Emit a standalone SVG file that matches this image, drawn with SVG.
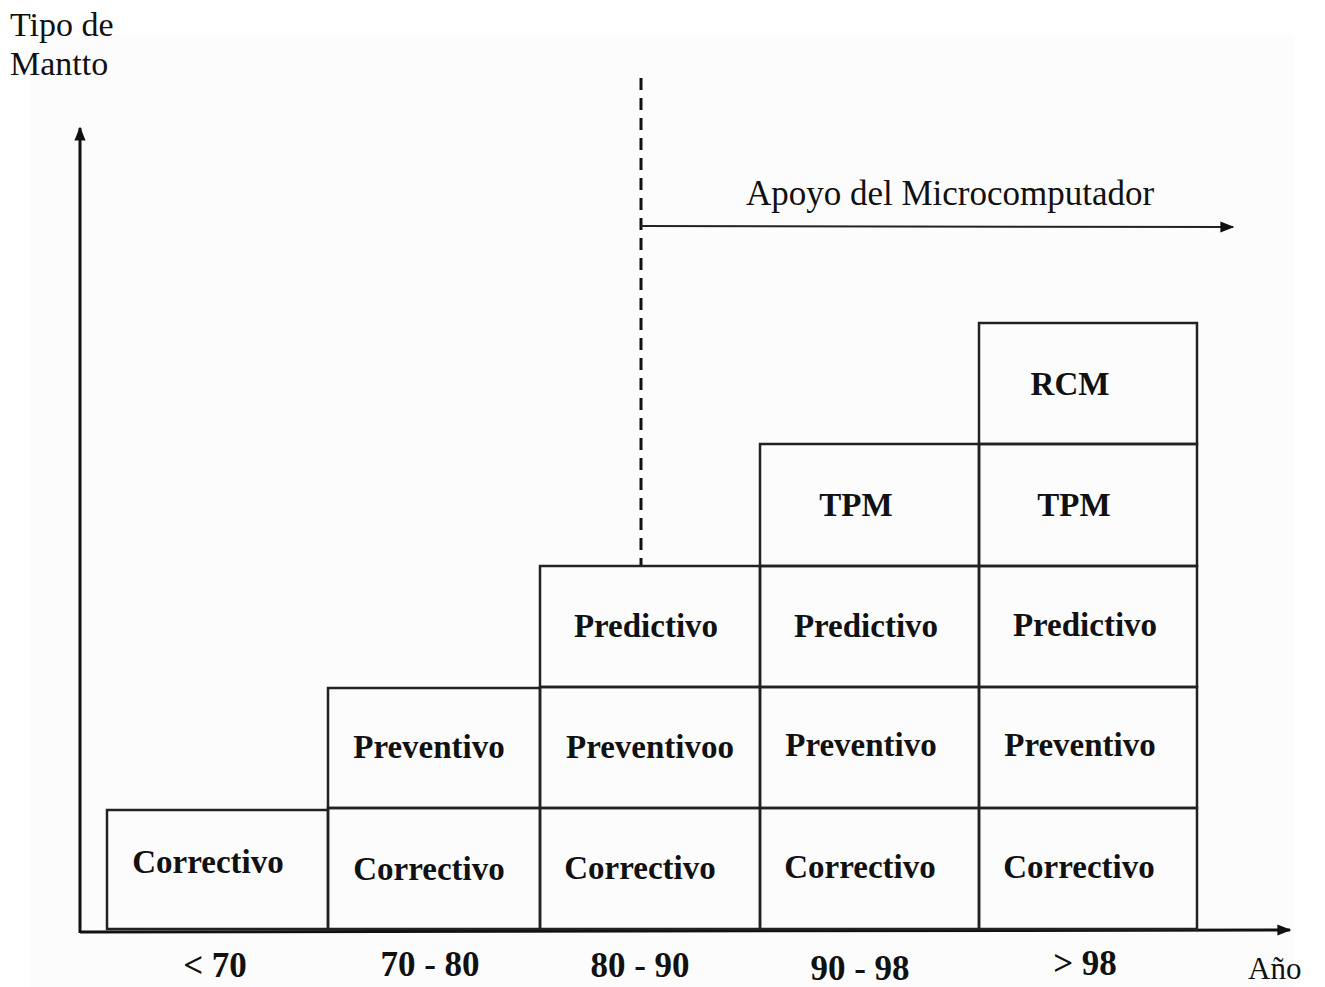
<svg xmlns="http://www.w3.org/2000/svg" width="1325" height="987" viewBox="0 0 1325 987">
  <defs>
    <marker id="arrowBig" viewBox="0 0 10 10" refX="9" refY="5" markerWidth="18" markerHeight="14" markerUnits="userSpaceOnUse" orient="auto">
      <path d="M0,1 L10,5 L0,9 Z" fill="#111"/>
    </marker>
    <style>
      .box { fill: none; stroke: #222; stroke-width: 2.5; }
      .lbl { font-family: "Liberation Serif", "Times New Roman", serif; font-size: 33px; font-weight: bold; fill: #111; text-anchor: middle; }
      .yr { font-family: "Liberation Serif", "Times New Roman", serif; font-size: 35px; font-weight: bold; fill: #111; text-anchor: middle; }
      .plain { font-family: "Liberation Serif", "Times New Roman", serif; font-size: 34px; fill: #111; }
      .axis { stroke: #111; stroke-width: 3; fill: none; }
    </style>
  </defs>
  <rect width="1325" height="987" fill="#ffffff"/>
  <rect x="30" y="35" width="1265" height="952" fill="#fcfcfc"/>

  <!-- axis titles -->
  <text class="plain" x="10" y="36">Tipo de</text>
  <text class="plain" x="10" y="75">Mantto</text>
  <text class="plain" x="1248" y="979" style="font-size:31px">Año</text>

  <!-- axes and connectors -->
  <g id="connectors">
    <line class="axis" x1="80" y1="933" x2="80" y2="128" marker-end="url(#arrowBig)"/>
    <line class="axis" x1="80" y1="932" x2="1290" y2="930" marker-end="url(#arrowBig)"/>
    <line x1="641" y1="78" x2="641" y2="566" stroke="#111" stroke-width="3" stroke-dasharray="12,8"/>
    <line x1="641" y1="226" x2="1233" y2="227" stroke="#222" stroke-width="2" marker-end="url(#arrowBig)"/>
  </g>
  <text class="plain" x="950" y="205" text-anchor="middle" style="font-size:35px">Apoyo del Microcomputador</text>

  <!-- column < 70 -->
  <g id="c70">
    <rect class="box" x="107" y="810" width="221" height="119"/>
    <text class="lbl" x="208" y="873">Correctivo</text>
  </g>

  <!-- column 70 - 80 -->
  <g id="c7080">
    <rect class="box" x="328" y="808" width="212" height="121"/>
    <text class="lbl" x="429" y="880">Correctivo</text>
    <rect class="box" x="328" y="688" width="212" height="120"/>
    <text class="lbl" x="429" y="758">Preventivo</text>
  </g>

  <!-- column 80 - 90 -->
  <g id="c8090">
    <rect class="box" x="540" y="808" width="220" height="121"/>
    <text class="lbl" x="640" y="879">Correctivo</text>
    <rect class="box" x="540" y="687" width="220" height="121"/>
    <text class="lbl" x="650" y="758">Preventivoo</text>
    <rect class="box" x="540" y="566" width="220" height="121"/>
    <text class="lbl" x="646" y="637">Predictivo</text>
  </g>

  <!-- column 90 - 98 -->
  <g id="c9098">
    <rect class="box" x="760" y="808" width="219" height="121"/>
    <text class="lbl" x="860" y="878">Correctivo</text>
    <rect class="box" x="760" y="687" width="219" height="121"/>
    <text class="lbl" x="861" y="756">Preventivo</text>
    <rect class="box" x="760" y="566" width="219" height="121"/>
    <text class="lbl" x="866" y="637">Predictivo</text>
    <rect class="box" x="760" y="444" width="219" height="122"/>
    <text class="lbl" x="856" y="516">TPM</text>
  </g>

  <!-- column > 98 -->
  <g id="c98">
    <rect class="box" x="979" y="808" width="218" height="121"/>
    <text class="lbl" x="1079" y="878">Correctivo</text>
    <rect class="box" x="979" y="687" width="218" height="121"/>
    <text class="lbl" x="1080" y="756">Preventivo</text>
    <rect class="box" x="979" y="566" width="218" height="121"/>
    <text class="lbl" x="1085" y="636">Predictivo</text>
    <rect class="box" x="979" y="444" width="218" height="122"/>
    <text class="lbl" x="1074" y="516">TPM</text>
    <rect class="box" x="979" y="323" width="218" height="121"/>
    <text class="lbl" x="1070" y="395">RCM</text>
  </g>

  <!-- year ranges -->
  <g id="years">
    <text class="yr" x="215" y="977">&lt; 70</text>
    <text class="yr" x="430" y="976">70 - 80</text>
    <text class="yr" x="640" y="977">80 - 90</text>
    <text class="yr" x="860" y="980">90 - 98</text>
    <text class="yr" x="1085" y="975">&gt; 98</text>
  </g>
</svg>
